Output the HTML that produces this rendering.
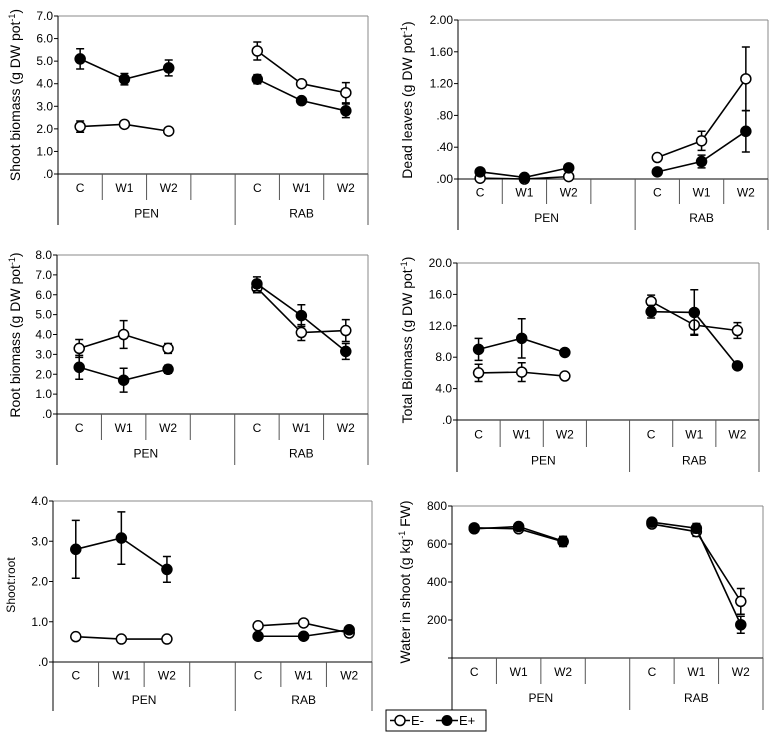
<!DOCTYPE html>
<html><head><meta charset="utf-8"><style>
body{margin:0;background:#fff;}
svg{display:block;font-family:"Liberation Sans",Arial,sans-serif;}
</style></head><body>
<svg id="s" width="773" height="739" viewBox="0 0 773 739"></svg>
<script>
const categories = ["C","W1","W2","C","W1","W2"];
const groups = ["PEN","RAB"];
// Panel 1: shoot biomass
const shootEminus = [2.1,2.2,1.9,5.45,4.0,3.6];
const shootEminusErr = [0.25,0.15,0.05,0.4,0.15,0.45];
const shootEplus = [5.1,4.2,4.7,4.2,3.25,2.8];
const shootEplusErr = [0.45,0.25,0.35,0.2,0.1,0.3];
const shootTicks = [".0","1.0","2.0","3.0","4.0","5.0","6.0","7.0"];
// Panel 2: dead leaves
const deadEminus = [0.01,0.0,0.03,0.27,0.48,1.26];
const deadEminusErr = [0,0,0,0,0.12,0.4];
const deadEplus = [0.09,0.02,0.14,0.09,0.22,0.6];
const deadEplusErr = [0.02,0,0,0.04,0.08,0.26];
const deadTicks = [".00",".40",".80","1.20","1.60","2.00"];
// Panel 3: root biomass
const rootEminus = [3.3,4.0,3.3,6.35,4.1,4.2];
const rootEminusErr = [0.45,0.7,0.25,0.25,0.4,0.55];
const rootEplus = [2.35,1.7,2.25,6.55,4.95,3.15];
const rootEplusErr = [0.6,0.6,0.2,0.35,0.55,0.4];
const rootTicks = [".0","1.0","2.0","3.0","4.0","5.0","6.0","7.0","8.0"];
// Panel 4: total biomass
const totalEminus = [6.0,6.1,5.6,15.1,12.1,11.4];
const totalEminusErr = [1.1,1.2,0.2,0.8,1.2,1.0];
const totalEplus = [9.0,10.4,8.6,13.8,13.7,6.9];
const totalEplusErr = [1.4,2.5,0.2,0.8,2.9,0.2];
const totalTicks = [".0","4.0","8.0","12.0","16.0","20.0"];
// Panel 5: shoot:root
const ratioEminus = [0.63,0.57,0.57,0.9,0.97,0.72];
const ratioEminusErr = [0,0,0,0,0,0];
const ratioEplus = [2.8,3.08,2.3,0.64,0.64,0.8];
const ratioEplusErr = [0.72,0.65,0.32,0,0,0];
const ratioTicks = [".0","1.0","2.0","3.0","4.0"];
// Panel 6: water in shoot
const waterEminus = [685,680,612,705,665,298];
const waterEminusErr = [10,10,25,10,25,68];
const waterEplus = [680,692,615,715,683,175];
const waterEplusErr = [10,10,25,10,25,45];
const waterTicks = ["","200","400","600","800"];

const NS="http://www.w3.org/2000/svg";
const svg=document.getElementById('s');
function mk(tag,attrs,parent,text){const e=document.createElementNS(NS,tag);for(const k in attrs)e.setAttribute(k,attrs[k]);if(text!==undefined)e.textContent=text;(parent||svg).appendChild(e);return e;}

const panels=[
 {name:"shoot-biomass",x0:58,x1:368,y0:16,y1:174,r1:200,r2:225,max:7,ticks:shootTicks,em:shootEminus,eme:shootEminusErr,ep:shootEplus,epe:shootEplusErr,label:"Shoot biomass (g DW pot",sup:"-1",tail:")",lx:20,ly:95},
 {name:"dead-leaves",x0:458,x1:768,y0:20,y1:179,r1:204,r2:230,max:2,ticks:deadTicks,em:deadEminus,eme:deadEminusErr,ep:deadEplus,epe:deadEplusErr,label:"Dead leaves  (g DW pot",sup:"-1",tail:")",lx:412,ly:100},
 {name:"root-biomass",x0:57,x1:368,y0:255,y1:414,r1:440,r2:465,max:8,ticks:rootTicks,em:rootEminus,eme:rootEminusErr,ep:rootEplus,epe:rootEplusErr,label:"Root biomass (g DW pot",sup:"-1",tail:")",lx:20,ly:335},
 {name:"total-biomass",x0:457,x1:759,y0:263,y1:420,r1:447,r2:472,max:20,ticks:totalTicks,em:totalEminus,eme:totalEminusErr,ep:totalEplus,epe:totalEplusErr,label:"Total Biomass  (g DW pot",sup:"-1",tail:")",lx:412,ly:340},
 {name:"shoot-root-ratio",x0:53,x1:372,y0:501,y1:662,r1:687,r2:711,max:4,ticks:ratioTicks,em:ratioEminus,eme:ratioEminusErr,ep:ratioEplus,epe:ratioEplusErr,label:"Shoot:root",sup:"",tail:"",lx:15,ly:585,fs:12},
 {name:"water-in-shoot",x0:452,x1:763,y0:506,y1:658,r1:684,r2:710,max:800,ticks:waterTicks,em:waterEminus,eme:waterEminusErr,ep:waterEplus,epe:waterEplusErr,label:"Water in shoot (g kg",sup:"-1",tail:" FW)",lx:410,ly:582}
];

panels.forEach(p=>{
 const g=mk('g',{});
 
 
 const sw=(p.x1-p.x0)/7;
 const yS=v=>p.y1-(v/p.max)*(p.y1-p.y0);
 const xS=i=>p.x0+sw*((i<3?i:i+1)+0.5);
 // frame
 mk('line',{x1:p.x0,y1:p.y0,x2:p.x1,y2:p.y0,stroke:'#888','stroke-width':1},g);
 mk('line',{x1:p.x1,y1:p.y0,x2:p.x1,y2:p.y1,stroke:'#888','stroke-width':1},g);
 const ya=mk('line',{x1:p.x0,y1:p.y0,x2:p.x0,y2:p.r2,stroke:'#000','stroke-width':1},g);
 
 const xa=mk('line',{x1:p.x0,y1:p.y1,x2:p.x1,y2:p.y1,stroke:'#000','stroke-width':1},g);
 
 // ticks
 const n=p.ticks.length-1;
 p.ticks.forEach((t,i)=>{
  const v=p.max*i/n, y=yS(v);
  mk('line',{x1:p.x0-4,y1:y,x2:p.x0,y2:y,stroke:'#000'},g);
  if(t){const tl=mk('text',{x:p.x0-5,y:y+4,'font-size':12,'text-anchor':'end',fill:'#000'},g,t);
   }
 });
 // category separators
 for(let k=1;k<7;k++){const x=p.x0+sw*k;
  mk('line',{x1:x,y1:p.y1,x2:x,y2:(k===4?p.r2:p.r1),stroke:'#555'},g);}
 mk('line',{x1:p.x1,y1:p.y1,x2:p.x1,y2:p.r2,stroke:'#555'},g);
 categories.forEach((c,i)=>{
  const ct=mk('text',{x:xS(i),y:(p.y1+p.r1)/2+5,'font-size':12,'text-anchor':'middle'},g,c);
  
 });
 groups.forEach((gr,j)=>{
  const cx=j===0?p.x0+sw*2:p.x0+sw*5.5;
  const gt=mk('text',{x:cx,y:(p.r1+p.r2)/2+5,'font-size':12,'text-anchor':'middle'},g,gr);
  
 });
 // y label
 const yl=mk('text',{transform:`translate(${p.lx},${p.ly}) rotate(-90)`,'font-size':p.fs||14,'text-anchor':'middle'},g);
 
 mk('tspan',{},yl,p.label);
 if(p.sup){mk('tspan',{dy:-5,'font-size':9},yl,p.sup);mk('tspan',{dy:5},yl,p.tail);}
 // series
 [[p.em,p.eme,'#fff','e-minus'],[p.ep,p.epe,'#000','e-plus']].forEach(([vals,errs,fill,sn])=>{
  [[0,1,2],[3,4,5]].forEach(idx=>{
   const pts=idx.map(i=>xS(i)+','+yS(vals[i])).join(' ');
   const pl=mk('polyline',{points:pts,fill:'none',stroke:'#000','stroke-width':1.6},g);
   
  });
  vals.forEach((v,i)=>{
   const x=xS(i),y=yS(v),e=errs[i];
   if(e>0){const a=yS(v+e),b=yS(v-e);
    const eb=mk('path',{d:`M${x},${a}V${b}M${x-4},${a}H${x+4}M${x-4},${b}H${x+4}`,stroke:'#000','stroke-width':1.5,fill:'none'},g);
    }
   const c=mk('circle',{cx:x,cy:y,r:5,fill:fill,stroke:'#000','stroke-width':1.5},g);
   
  });
 });
});
// legend
const lg=mk('g',{});


mk('rect',{x:386,y:710,width:100,height:21,fill:'#fff',stroke:'#000'},lg);
mk('line',{x1:390,y1:720.5,x2:410,y2:720.5,stroke:'#000','stroke-width':1.5},lg);
mk('circle',{cx:400,cy:720.5,r:5,fill:'#fff',stroke:'#000','stroke-width':1.5},lg);
const l1=mk('text',{x:411,y:725,'font-size':13},lg,'E-');

mk('line',{x1:436,y1:720.5,x2:458,y2:720.5,stroke:'#000','stroke-width':1.5},lg);
mk('circle',{cx:447,cy:720.5,r:5,fill:'#000',stroke:'#000'},lg);
const l2=mk('text',{x:459,y:725,'font-size':13},lg,'E+');

</script>
</body></html>
